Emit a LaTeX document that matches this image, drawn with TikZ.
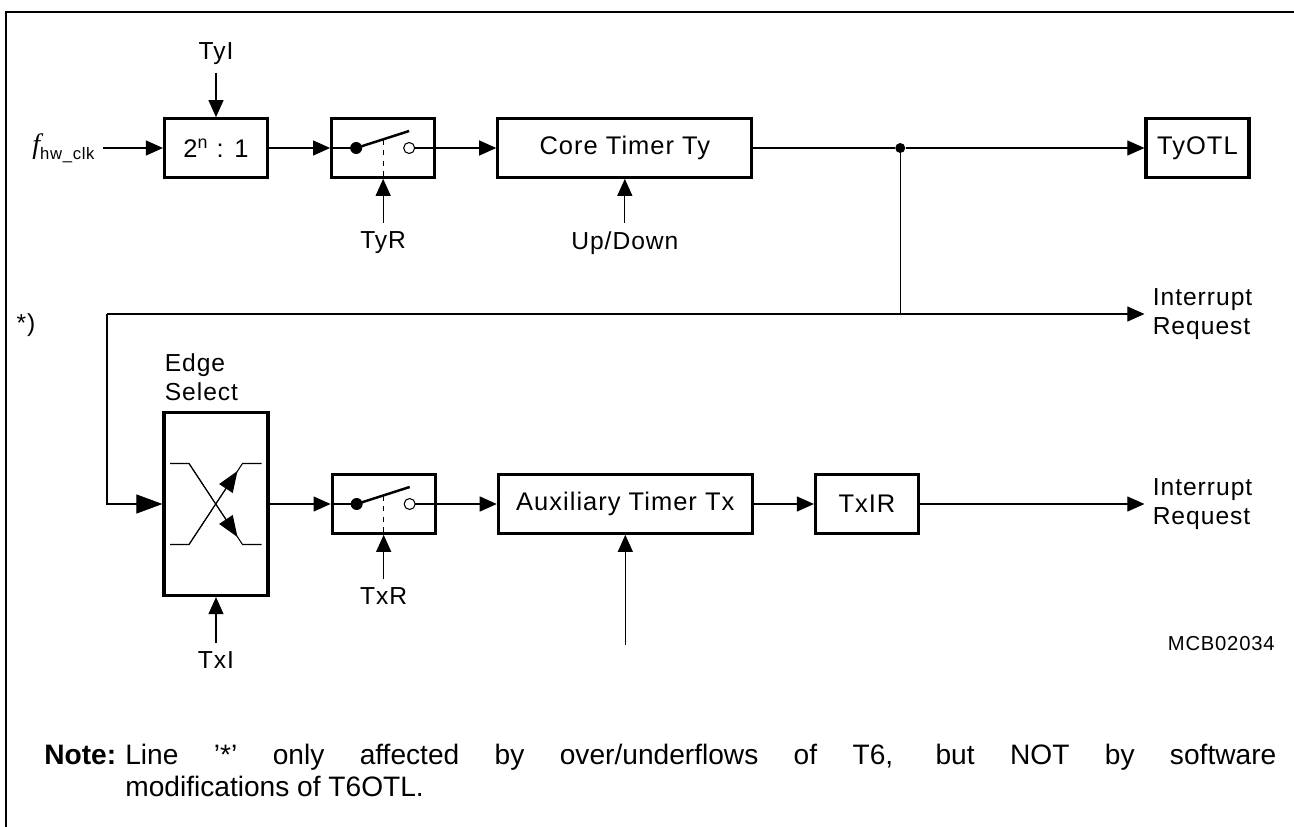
\documentclass[tikz,border=0pt]{standalone}
\usepackage{fontspec}
\setmainfont{Liberation Sans}
\newfontfamily\diagfont[LetterSpace=4]{Liberation Sans}
\newfontfamily\timesfont{Liberation Serif}
\usetikzlibrary{arrows.meta, positioning, calc}

% open switch drawn inside a box node
\newcommand{\drawswitch}[1]{%
  \draw[line width=0.6pt] (#1.west) -- ($(#1)+(-0.54,0)$);
  \fill ($(#1)+(-0.54,0)$) circle (0.12);
  \draw[line width=1.4pt] ($(#1)+(-0.54,0)$) -- ($(#1)+(0.52,0.34)$);
  \draw[line width=0.6pt] ($(#1)+(0.52,0)$) circle (0.11);
  \draw[line width=0.6pt] ($(#1)+(0.63,0)$) -- (#1.east);
  \draw[dashed, line width=0.6pt] ($(#1)+(0,0.17)$) -- (#1.south);
}

\begin{document}
\begin{tikzpicture}[
  box/.style={
    draw, line width=1.8pt, minimum width=2.06cm, minimum height=1.17cm,
    inner sep=0pt, font=\diagfont\fontsize{14.5pt}{17pt}\selectfont
  },
  lbl/.style={inner sep=0.16cm, font=\diagfont\fontsize{14pt}{16.5pt}\selectfont},
  arr/.style={-{Triangle[length=0.34cm, width=0.3cm]}, line width=0.6pt},
  bigarr/.style={-{Triangle[length=0.52cm, width=0.38cm]}, line width=0.6pt},
  wire/.style={line width=0.6pt},
  dot/.style={circle, fill, inner sep=0pt, minimum size=0.2cm},
  notetext/.style={anchor=base west, inner sep=0pt, font=\fontsize{16pt}{18.7pt}\selectfont}
]
  \useasboundingbox (0,0) rectangle (25.88,-16.54);

  % frame
  \draw[line width=1.6pt] (0.12,-16.54) -- (0.12,-0.24) -- (25.88,-0.24);

  % Ty chain
  \node[box] (div) at (4.32,-2.96) {2\textsuperscript{n} : 1};
  \node[box, right=1.22cm of div] (sw1) {};
  \node[box, right=1.2cm of sw1, minimum width=5.08cm] (core) {Core Timer Ty};
  \node[box, right=7.82cm of core] (tyotl) {TyOTL};
  \node[dot, right=2.83cm of core] (jn) {};

  \node[lbl, left=1.2cm of div] (fclk) {{\timesfont\itshape\fontsize{16pt}{18pt}\selectfont f}{\fontsize{9.5pt}{11pt}\selectfont\raisebox{-0.12cm}{hw\_clk}}};
  \node[lbl, above=0.89cm of div] (tyi) {TyI};
  \node[lbl, below=0.88cm of sw1] (tyr) {TyR};
  \node[lbl, below=0.88cm of core] (updn) {Up/Down};

  % Tx chain
  \node[box, minimum width=2.08cm, minimum height=3.66cm] (edge) at (4.32,-10.08) {};
  \node[box, right=1.22cm of edge] (sw2) {};
  \node[box, right=1.2cm of sw2, minimum width=5.08cm] (aux) {Auxiliary Timer Tx};
  \node[box, right=1.2cm of aux] (txir) {TxIR};

  \node[lbl, align=left, anchor=south west, inner sep=0.2cm, xshift=-0.16cm] (edgelbl) at (edge.north west) {Edge\\Select};
  \node[lbl, below=0.92cm of edge] (txi) {TxI};
  \node[lbl, below=0.88cm of sw2] (txr) {TxR};
  \coordinate[below=2.2cm of aux] (auxin);

  % outputs
  \coordinate (corner) at (2.14,-6.28);
  \node[lbl, align=left, anchor=west] (irq1) at (tyotl.west |- corner) {Interrupt\\Request};
  \node[lbl, align=left, anchor=west] (irq2) at (tyotl.west |- txir) {Interrupt\\Request};
  \node[lbl] (star) at (0.52,-6.5) {*)};
  \node[lbl, anchor=east, font=\diagfont\fontsize{11.5pt}{13pt}\selectfont] (mcb) at (25.66,-12.88) {MCB02034};

  % switches and edge selector
  \drawswitch{sw1}
  \drawswitch{sw2}
  \draw[wire] ($(edge)+(-0.92,0.81)$) -- ++(0.38,0) -- ($(edge)+(0.53,-0.81)$) -- ++(0.38,0);
  \draw[wire] ($(edge)+(-0.92,-0.81)$) -- ++(0.38,0) -- ($(edge)+(0.53,0.81)$) -- ++(0.38,0);
  \draw[-{Triangle[length=0.42cm, width=0.32cm]}, line width=0.6pt] ($(edge)+(-0.54,0.81)$) -- ($(edge)+(0.43,-0.66)$);
  \draw[-{Triangle[length=0.42cm, width=0.32cm]}, line width=0.6pt] ($(edge)+(-0.54,-0.81)$) -- ($(edge)+(0.43,0.66)$);

  % connections
  \draw[arr] (fclk.east |- div) -- (div);
  \draw[arr] (tyi) -- (div);
  \draw[arr] (div) -- (sw1);
  \draw[arr] (tyr) -- (sw1);
  \draw[arr] (sw1) -- (core);
  \draw[arr] (updn) -- (core);
  \draw[wire] (core) -- (jn);
  \draw[arr] (jn) -- (tyotl);
  \draw[wire] (jn) -- (jn |- corner);
  \draw[arr] (corner) -- (irq1.west);
  \draw[bigarr] (corner) |- (edge);
  \draw[arr] (txi) -- (edge);
  \draw[arr] (edge) -- (sw2);
  \draw[arr] (txr) -- (sw2);
  \draw[arr] (sw2) -- (aux);
  \draw[arr] (auxin) -- (aux);
  \draw[arr] (aux) -- (txir);
  \draw[arr] (txir) -- (irq2.west);

  % note
  \node[notetext] (notehd) at (0.88,-15.28) {\textbf{Note:}};
  \node[notetext, text width=23.02cm, align=justify] (note) at (2.5,-15.28) {Line ’*’ only affected by over/underflows of T6, but NOT by software\linebreak modifications of T6OTL.};
\end{tikzpicture}
\end{document}
